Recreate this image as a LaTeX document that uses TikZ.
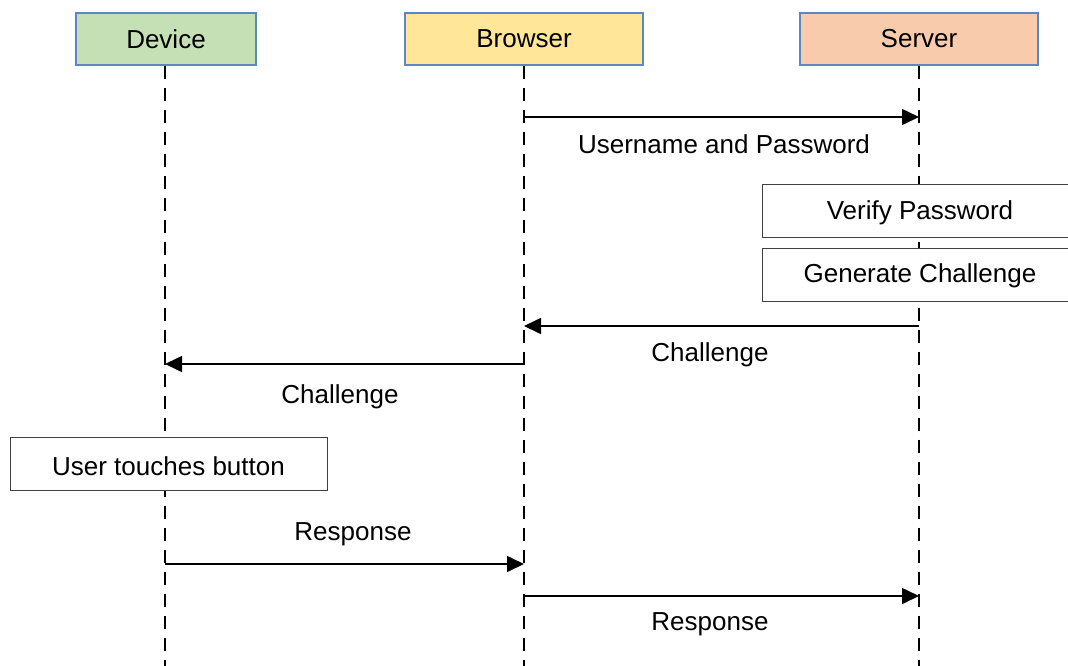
\documentclass[tikz,border=0pt]{standalone}
\usepackage{fontspec}
\setmainfont{Liberation Sans}
\usetikzlibrary{arrows.meta}
\begin{document}
\begin{tikzpicture}[x=1pt,y=-1pt,
  font=\fontsize{26}{30}\selectfont,
  actor/.style={draw=actorline,line width=1.5pt,minimum width=238pt,minimum height=52pt,inner sep=0pt,anchor=north},
  actbox/.style={draw=boxline,line width=1.2pt,fill=white,minimum height=53pt,inner sep=0pt},
  lifeline/.style={line width=1.6pt,dash pattern=on 13pt off 9pt},
  msg/.style={line width=1.6pt,-{Triangle[length=17pt,width=16pt]}},
  lbl/.style={inner sep=0pt}]
\definecolor{actorline}{HTML}{5B87C5}
\definecolor{boxline}{HTML}{404040}
\definecolor{devfill}{HTML}{C5E0B4}
\definecolor{brwfill}{HTML}{FFE699}
\definecolor{srvfill}{HTML}{F8CBAD}
\clip (0,0) rectangle (1068,665);
\useasboundingbox (0,0) rectangle (1068,665);

% participants
\node[actor,fill=devfill,minimum width=180pt] (dev) at (166,12) {Device};
\node[actor,fill=brwfill] (brw) at (524,12) {Browser};
\node[actor,fill=srvfill] (srv) at (919,12) {Server};

% lifeline end points
\coordinate (devend) at (165,668);
\coordinate (brwend) at (524,668);
\coordinate (srvend) at (919,668);
\draw[lifeline] (dev.south -| devend) -- (devend);
\draw[lifeline] (brw.south) -- (brwend);
\draw[lifeline] (srv.south) -- (srvend);

% activity boxes
\node[actbox,minimum width=320pt,anchor=north west] (verify) at (762,184) {};
\node[lbl] at (920,213) {Verify Password};
\node[actbox,minimum width=320pt,anchor=north west] (gen) at (762,248) {};
\node[lbl] at (920,276) {Generate Challenge};
\node[actbox,minimum width=317pt,anchor=north west] (touch) at (10,437) {};
\node[lbl] at (168.5,466) {User touches button};

% message anchors on the lifelines
\coordinate (b1) at (524,117); \coordinate (s1) at (919,117);
\coordinate (s2) at (919,326); \coordinate (b2) at (524,326);
\coordinate (b3) at (524,364); \coordinate (d3) at (165,364);
\coordinate (d4) at (165,564); \coordinate (b4) at (524,564);
\coordinate (b5) at (524,596); \coordinate (s5) at (919,596);

\draw[msg] (b1) -- (s1);
\node[lbl] (m1) at (724,144) {Username and Password};
\draw[msg] (s2) -- (b2);
\node[lbl] (m2) at (710,355) {Challenge};
\draw[msg] (b3) -- (d3);
\node[lbl] (m3) at (340,397) {Challenge};
\draw[msg] (d4) -- (b4);
\node[lbl] (m4) at (353,534) {Response};
\draw[msg] (b5) -- (s5);
\node[lbl] (m5) at (710,624) {Response};
\end{tikzpicture}
\end{document}
